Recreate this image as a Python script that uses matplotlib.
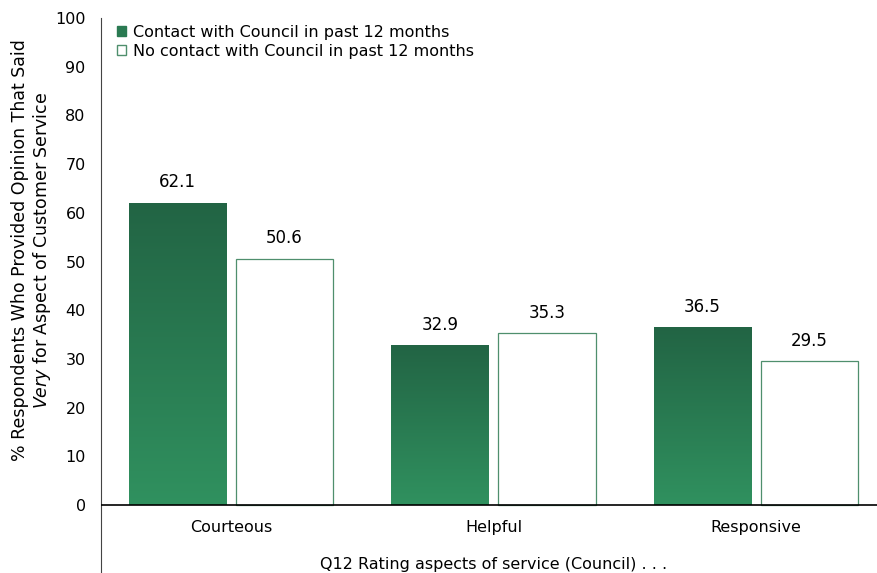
import numpy as np
import matplotlib.pyplot as plt
from matplotlib.patches import Patch
from matplotlib.colors import LinearSegmentedColormap

plt.rcParams['font.family'] = 'DejaVu Sans'
plt.rcParams['mathtext.fontset'] = 'custom'
plt.rcParams['mathtext.it'] = 'DejaVu Sans:italic'
plt.rcParams['mathtext.rm'] = 'DejaVu Sans'

# Survey results
categories = ['Courteous', 'Helpful', 'Responsive']
contact = [62.1, 32.9, 36.5]
no_contact = [50.6, 35.3, 29.5]
series_names = ['Contact with Council in past 12 months',
                'No contact with Council in past 12 months']

dark_green = '#226444'
light_green = '#30915f'
edge_green = '#4f8f6d'

fig = plt.figure(figsize=(8.77, 5.73), dpi=100)
ax = fig.add_axes([101 / 877, 0, 776 / 877, 1 - 18 / 573])

x = np.arange(len(categories))
width = 0.37
offset = 0.204

grad_cmap = LinearSegmentedColormap.from_list('grad', [light_green, dark_green])
gradient = np.linspace(0, 1, 256).reshape(-1, 1)

bars = ax.bar(x - offset, contact, width, color='none', edgecolor='none')
for rect in bars:
    x0 = rect.get_x()
    h = rect.get_height()
    im = ax.imshow(gradient, cmap=grad_cmap, origin='lower', aspect='auto',
                   extent=[x0, x0 + rect.get_width(), 0, h], zorder=2)
    im.set_clip_path(rect)

ax.bar(x + offset, no_contact, width, color='white', edgecolor=edge_green,
       linewidth=0.9, zorder=2)

for xi, v in zip(x, contact):
    ax.text(xi - offset, v + 2.3, f'{v:.1f}', ha='center', va='bottom', fontsize=12)
for xi, v in zip(x, no_contact):
    ax.text(xi + offset, v + 2.3, f'{v:.1f}', ha='center', va='bottom', fontsize=12)

ax.set_xlim(-0.495, 2.461)
ax.set_ylim(-13.96, 100)
ax.set_yticks(np.arange(0, 101, 10))
ax.tick_params(axis='y', length=0, labelsize=11.5, pad=11)
ax.set_xticks([])

for side in ['top', 'right', 'bottom']:
    ax.spines[side].set_visible(False)
ax.spines['left'].set_color('#444444')
ax.axhline(0, color='black', linewidth=1.2, zorder=3)

for xi, name in zip(x, categories):
    ax.text(xi, -4.7, name, ha='center', va='center', fontsize=11.5)
ax.text(1.0, -12.3, 'Q12 Rating aspects of service (Council) . . .',
        ha='center', va='center', fontsize=11.5)

# two-line y label, second line starts with an italic word
fig.text(20 / 877, 1 - 250 / 573, '% Respondents Who Provided Opinion That Said',
         rotation=90, ha='center', va='center', fontsize=12.5)
fig.text(42 / 877, 1 - 250 / 573, r'$\it{Very}$ for Aspect of Customer Service',
         rotation=90, ha='center', va='center', fontsize=12.5)

handles = [Patch(facecolor='#2a7a52', edgecolor='#2a7a52'),
           Patch(facecolor='white', edgecolor=edge_green)]
ax.legend(handles, series_names, loc='upper left', bbox_to_anchor=(0.008, 1.005),
          frameon=False, fontsize=11.5, handlelength=0.6, handleheight=0.6,
          handletextpad=0.4, labelspacing=0.25, borderaxespad=0.2)

fig.savefig('out.png', dpi=100)
